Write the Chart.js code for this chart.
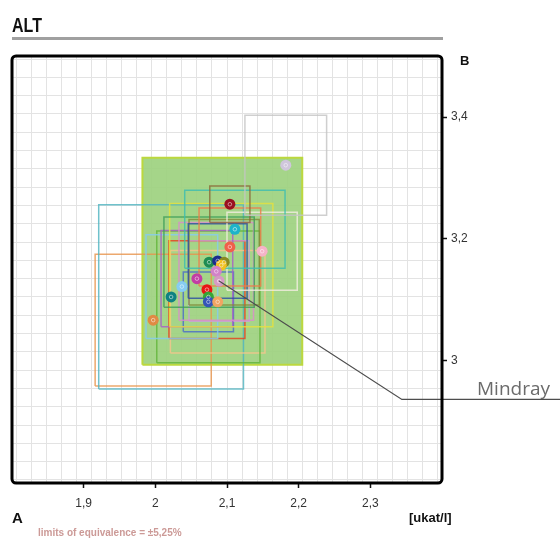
<!DOCTYPE html>
<html>
<head>
<meta charset="utf-8">
<script src="https://cdn.jsdelivr.net/npm/chart.js@4/dist/chart.umd.min.js"></script>
<style>
  body { margin: 0; background: #fff; }
  #wrap { position: relative; width: 560px; height: 540px; overflow: hidden;
          font-family: 'Liberation Sans', Arial, sans-serif; }
  #wrap canvas { position: absolute; left: 0; top: 0; }
  .lbl { position: absolute; white-space: nowrap; color: #111; line-height: 1; }
  #title { left: 12px; top: 14px; font: bold 20px 'Liberation Sans', sans-serif;
           transform: scaleX(0.8); transform-origin: left top; }
  #rule  { position: absolute; left: 12px; top: 37px; width: 431px; height: 3px; background: #a0a0a0; }
  #axB   { left: 460px; top: 54px; font-weight: bold; font-size: 13px; }
  #axA   { left: 12px; top: 510px; font-weight: bold; font-size: 15px; }
  #unit  { left: 409px; top: 511px; font-weight: bold; font-size: 13px; }
  #limits{ left: 38px; top: 528px; font-weight: bold; font-size: 10px; color: #cc9a97; }
  #mindray { left: 477px; top: 375px; font: 19px 'Open Sans', 'Liberation Sans', sans-serif; color: #6b6b6b; }
</style>
</head>
<body>
<div id="wrap">
  <canvas id="youden" width="560" height="540"></canvas>
  <div class="lbl" id="title">ALT</div>
  <div id="rule"></div>
  <div class="lbl" id="axB">B</div>
  <div class="lbl" id="axA">A</div>
  <div class="lbl" id="unit">[ukat/l]</div>
  <div class="lbl" id="limits">limits of equivalence = ±5,25%</div>
  <div class="lbl" id="mindray">Mindray</div>
</div>
<script>
// ------------------------------------------------------------------
// axes
// ------------------------------------------------------------------
const X_MIN = 1.8, X_MAX = 2.4;
const Y_MIN = 2.8, Y_MAX = 3.5;

const xTickValues = [1.9, 2.0, 2.1, 2.2, 2.3];
const xTickLabels = ["1,9", "2", "2,1", "2,2", "2,3"];
const yTickValues = [3.0, 3.2, 3.4];
const yTickLabels = ["3", "3,2", "3,4"];

// 1 % grid (anchor + step)
const gridA0 = 2.1,   gridAStep = 0.021;
const gridB0 = 3.165, gridBStep = 0.03;

// ------------------------------------------------------------------
// laboratory results: A (x), B (y) and half size of their boxes
// ------------------------------------------------------------------
const labA  = [2.182, 2.104, 2.111, 2.104, 2.149, 2.075, 2.087, 2.096, 2.092, 2.085,
               2.058, 2.089, 2.037, 2.072, 2.074, 2.074, 2.087, 2.022, 1.997];
const labB  = [3.321, 3.257, 3.216, 3.187, 3.180, 3.162, 3.164, 3.162, 3.157, 3.147,
               3.135, 3.131, 3.122, 3.117, 3.105, 3.097, 3.097, 3.105, 3.067];
const labDA = [0.057, 0.028, 0.070, 0.043, 0.049, 0.063, 0.041, 0.049, 0.072, 0.052,
               0.050, 0.042, 0.050, 0.053, 0.072, 0.035, 0.066, 0.101, 0.081];
const labDB = [0.082, 0.030, 0.064, 0.064, 0.064, 0.074, 0.061, 0.070, 0.101, 0.080,
               0.079, 0.066, 0.085, 0.080, 0.108, 0.049, 0.084, 0.151, 0.108];

const labColors = ["#cfc6dc", "#9a1020", "#1db4c9", "#f0604a", "#f5b3c8", "#1e8c52",
                   "#1c2c8c", "#8a8a22", "#f0c020", "#d282c8", "#c23ea4", "#d59ac4",
                   "#86ccf2", "#e81414", "#35a535", "#3454b8", "#f2a462", "#0f8282", "#e08a44"];
const rectColors = ["#c4c4c4", "#8a6a3a", "#3dbdb0", "#f07a4a", "#f3ece0", "#3f9e5a",
                    "#2c4fa0", "#7f8a3a", "#e6e23c", "#dc8ccc", "#a860c8", "#c8a0d8",
                    "#86ccf0", "#e8401e", "#62b43a", "#4a6cc8", "#f6c48c", "#4fb4c0", "#e8944c"];

// equivalence area
const boxA = [1.982, 2.205];
const boxB = [2.994, 3.333];

// Mindray call-out, from the right edge back to its point
const calloutA = [2.565, 2.344, 2.089];
const calloutB = [2.937, 2.937, 3.131];

// ------------------------------------------------------------------
function gridTicks(min, max, anchor, step, majors) {
    const vals = [];
    for (let v = anchor; v >= min; v -= step) vals.push(+v.toFixed(4));
    for (let v = anchor + step; v <= max; v += step) vals.push(+v.toFixed(4));
    const ticks = vals.map(v => ({ value: v, isGrid: true, isMajor: false }));
    majors.forEach((m, i) => {
        const hit = ticks.find(t => Math.abs(t.value - m) < 0.002);
        if (hit) { hit.isMajor = true; hit.li = i; hit.value = m; }
        else ticks.push({ value: m, isGrid: false, isMajor: true, li: i });
    });
    return ticks.sort((a, b) => a.value - b.value);
}

function rectPath(x1, x2, y1, y2) {
    return [{x: x1, y: y1}, {x: x2, y: y1}, {x: x2, y: y2}, {x: x1, y: y2}, {x: x1, y: y1}];
}

// ------------------------------------------------------------------
const datasets = [];

// green equivalence area
datasets.push({
    type: "line",
    data: [{x: boxA[0], y: boxB[1]}, {x: boxA[1], y: boxB[1]}],
    fill: { value: boxB[0] },
    backgroundColor: "rgba(155,208,124,0.9)",
    borderWidth: 0,
    pointRadius: 0,
    order: 10
});
datasets.push({
    type: "line",
    data: rectPath(boxA[0], boxA[1], boxB[0], boxB[1]),
    borderColor: "#bcd83e",
    borderWidth: 2,
    pointRadius: 0,
    fill: false,
    order: 9
});

// lab boxes
labA.forEach((a, i) => {
    datasets.push({
        type: "line",
        data: rectPath(a - labDA[i], a + labDA[i], labB[i] - labDB[i], labB[i] + labDB[i]),
        borderColor: rectColors[i] + "d0",
        borderWidth: 1.5,
        borderJoinStyle: "miter",
        pointRadius: 0,
        fill: false,
        order: 5
    });
});

// lab points
const labPoints = labA.map((a, i) => ({ x: a, y: labB[i] }));
datasets.push({
    type: "scatter",
    data: labPoints,
    backgroundColor: labColors,
    borderWidth: 0,
    pointRadius: 5.5,
    order: 2
});
datasets.push({
    type: "scatter",
    data: labPoints,
    backgroundColor: "rgba(0,0,0,0)",
    borderColor: "rgba(255,255,255,0.5)",
    borderWidth: 1,
    pointRadius: 1.8,
    order: 1
});

// call-out line
datasets.push({
    type: "line",
    data: calloutA.map((a, i) => ({ x: a, y: calloutB[i] })),
    borderColor: "#4d4d4d",
    borderWidth: 1.2,
    pointRadius: 0,
    fill: false,
    clip: false,
    order: 0
});

// ------------------------------------------------------------------
const framePlugin = {
    id: "frame",
    afterDatasetsDraw(chart) {
        const { ctx, chartArea: a } = chart;
        ctx.save();
        ctx.lineWidth = 3;
        ctx.strokeStyle = "#000";
        ctx.beginPath();
        if (ctx.roundRect) ctx.roundRect(a.left, a.top, a.right - a.left, a.bottom - a.top, 4);
        else ctx.rect(a.left, a.top, a.right - a.left, a.bottom - a.top);
        ctx.stroke();
        ctx.restore();
    }
};

Chart.defaults.font.family = "'Liberation Sans', Arial, sans-serif";

const gridColor = c => (c.tick && c.tick.isGrid ? "#e3e3e3" : "rgba(0,0,0,0)");
const tickColor = c => (c.tick && c.tick.isMajor ? "#111" : "rgba(0,0,0,0)");

new Chart(document.getElementById("youden"), {
    type: "scatter",
    data: { datasets },
    options: {
        responsive: false,
        devicePixelRatio: 1,
        animation: false,
        layout: { padding: { left: 12, top: 56, right: 0, bottom: 0 } },
        plugins: { legend: { display: false }, tooltip: { enabled: false } },
        scales: {
            x: {
                type: "linear",
                min: X_MIN, max: X_MAX,
                afterBuildTicks: s => { s.ticks = gridTicks(X_MIN, X_MAX, gridA0, gridAStep, xTickValues); },
                afterFit: s => { s.height = 57; },
                border: { display: false },
                grid: { color: gridColor, tickColor: tickColor, tickLength: 5, tickWidth: 1.5, lineWidth: 1 },
                ticks: {
                    autoSkip: false, maxRotation: 0, minRotation: 0, padding: 8,
                    color: "#333", font: { size: 12 },
                    callback: (v, i, t) => (t[i].isMajor ? xTickLabels[t[i].li] : "")
                }
            },
            y: {
                type: "linear",
                position: "right",
                min: Y_MIN, max: Y_MAX,
                afterBuildTicks: s => { s.ticks = gridTicks(Y_MIN, Y_MAX, gridB0, gridBStep, yTickValues); },
                afterFit: s => { s.width = 118; },
                border: { display: false },
                grid: { color: gridColor, tickColor: tickColor, tickLength: 5, tickWidth: 1.5, lineWidth: 1 },
                ticks: {
                    autoSkip: false, padding: 4,
                    color: "#333", font: { size: 12 },
                    callback: (v, i, t) => (t[i].isMajor ? yTickLabels[t[i].li] : "")
                }
            }
        }
    },
    plugins: [framePlugin]
});
</script>
</body>
</html>
